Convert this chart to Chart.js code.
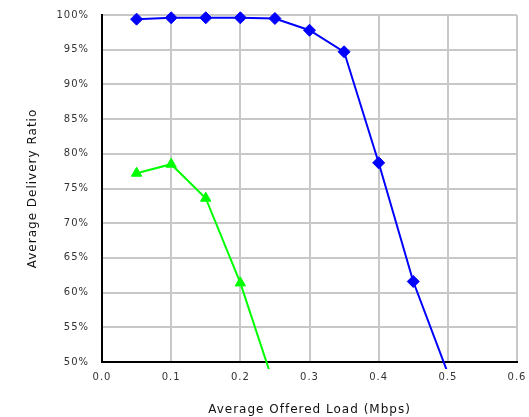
<!DOCTYPE html>
<html lang="en">
  <head>
    <meta charset="UTF-8" />
    <title>Average Delivery Ratio</title>
    <script src="https://cdn.jsdelivr.net/npm/chart.js"></script>
    <style>
      html, body { margin: 0; padding: 0; background: #fff; }
      #wrap { width: 529px; height: 417px; }
    </style>
  </head>
  <body>
    <div id="wrap"><canvas id="deliveryChart"></canvas></div>
    <script>
      // values (load in Mbps, ratio in %)
      const blueLoads = [0.05, 0.1, 0.15, 0.2, 0.25, 0.3, 0.35, 0.4, 0.45, 0.5];
      const blueRatio = [99.4, 99.6, 99.6, 99.6, 99.5, 97.8, 94.7, 78.7, 61.6, 48.4];
      const greenLoads = [0.05, 0.1, 0.15, 0.2, 0.25];
      const greenRatio = [77.2, 78.5, 73.6, 61.4, 46.3];
      const xTicks = [0, 0.1, 0.2, 0.3, 0.4, 0.5, 0.6];
      const yTicks = [50, 55, 60, 65, 70, 75, 80, 85, 90, 95, 100];

      const toPoints = (xs, ys) => xs.map((x, i) => ({ x: x, y: ys[i] }));

      // wider letters like the stretched original
      const spacing = {
        id: "spacing",
        beforeDraw(chart) {
          chart.ctx.letterSpacing = "1px";
        },
      };

      const ctx = document.getElementById("deliveryChart").getContext("2d");
      new Chart(ctx, {
        type: "line",
        data: {
          datasets: [
            {
              data: toPoints(blueLoads, blueRatio),
              borderColor: "#0000ff",
              backgroundColor: "#0000ff",
              borderWidth: 2,
              pointStyle: "rectRot",
              pointRadius: 6,
              pointBorderWidth: 1,
              clip: { left: 10, top: 10, right: 10, bottom: 7 },
            },
            {
              data: toPoints(greenLoads, greenRatio),
              borderColor: "#00ff00",
              backgroundColor: "#00ff00",
              borderWidth: 2,
              pointStyle: "triangle",
              pointRadius: 6,
              pointBorderWidth: 1,
              clip: { left: 10, top: 10, right: 10, bottom: 7 },
            },
          ],
        },
        plugins: [spacing],
        options: {
          responsive: true,
          maintainAspectRatio: false,
          animation: false,
          layout: { padding: { top: 15, right: 12, left: 0, bottom: 0 } },
          plugins: {
            legend: { display: false },
            tooltip: { enabled: false },
          },
          scales: {
            x: {
              type: "linear",
              min: 0,
              max: 0.6,
              afterBuildTicks: (scale) => {
                scale.ticks = xTicks.map((v) => ({ value: v }));
              },
              afterFit: (scale) => {
                scale.height = 55;
                scale.paddingLeft = 0;
                scale.paddingRight = 0;
              },
              ticks: {
                padding: 9,
                color: "#333",
                font: { family: "DejaVu Sans", size: 10 },
                callback: (v) => Number(v).toFixed(1),
              },
              grid: { color: "#c8c8c8", lineWidth: 2, drawTicks: false },
              border: { color: "#000", width: 2 },
              title: {
                display: true,
                text: "Average Offered Load (Mbps)",
                color: "#111",
                font: { family: "DejaVu Sans", size: 12 },
                padding: { top: 4, bottom: 0 },
              },
            },
            y: {
              min: 50,
              max: 100,
              afterBuildTicks: (scale) => {
                scale.ticks = yTicks.map((v) => ({ value: v }));
              },
              afterFit: (scale) => {
                scale.width = 102;
                scale.paddingTop = 0;
                scale.paddingBottom = 0;
              },
              ticks: {
                padding: 13,
                color: "#333",
                font: { family: "DejaVu Sans", size: 10 },
                callback: (v) => v + "%",
              },
              grid: { color: "#c8c8c8", lineWidth: 2, drawTicks: false },
              border: { color: "#000", width: 2 },
              title: {
                display: true,
                text: "Average Delivery Ratio",
                color: "#111",
                font: { family: "DejaVu Sans", size: 12 },
                padding: { top: 26, bottom: 0 },
              },
            },
          },
        },
      });
    </script>
  </body>
</html>
